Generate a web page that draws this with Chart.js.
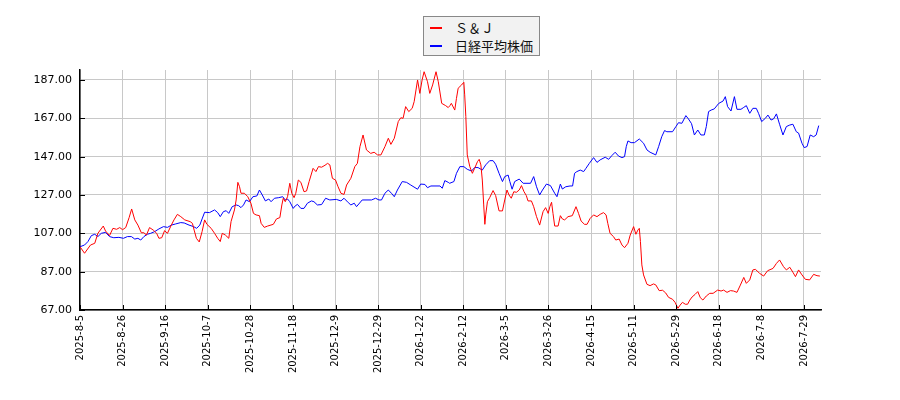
<!DOCTYPE html>
<html>
<head>
<meta charset="utf-8">
<script src="https://cdn.jsdelivr.net/npm/chart.js@4"></script>
<style>
  body { margin: 0; background: #fff; }
  #wrap { position: relative; width: 900px; height: 400px; }
  #legend {
    position: absolute; left: 423px; top: 16px; width: 115px; height: 38px;
    border: 1px solid #888; background: #f2f2f2;
    font-family: "Noto Sans CJK JP", "DejaVu Sans", sans-serif; font-size: 13px; color: #111;
  }
  #legend .row { position: absolute; left: 0; height: 18px; line-height: 18px; }
  #legend .swatch { position: absolute; left: 6px; top: 8px; width: 12px; height: 2px; }
  #legend .label { position: absolute; left: 31px; white-space: nowrap; }
</style>
</head>
<body>
<div id="wrap">
  <canvas id="chart" width="900" height="400"></canvas>
  <div id="legend"></div>
</div>
<script>
// === DONNEES ===
const xLabels = ["2025-8-5", "2025-8-26", "2025-9-16", "2025-10-7", "2025-10-28", "2025-11-18",
  "2025-12-9", "2025-12-29", "2026-1-22", "2026-2-12", "2026-3-5", "2026-3-26", "2026-4-15",
  "2026-5-11", "2026-5-29", "2026-6-18", "2026-7-8", "2026-7-29"];
const yTicks = [67, 87, 107, 127, 147, 167, 187];

// S&J (index in trading days, relative price)
const sjDay = [0, 1.6, 3.7, 5.2, 6.3, 8.2, 9, 10.4, 11.6, 12.9, 14, 15, 16.1, 17.3, 18.2, 19.3, 20.4, 21.6,
  22.5, 23.4, 24.5, 25.8, 27, 27.8, 28.8, 29.8, 30.8, 32, 33.1, 34.3, 35.5, 36.9, 38.8, 39.6, 40.2, 41,
  42, 43, 43.9, 44.7, 46.2, 47.4, 48.5, 49.4, 50.1, 51.2, 52.4, 53.2, 54.4, 55, 55.6, 56.2, 56.7, 57.9,
  59.1, 60.2, 61.1, 62, 63.2, 63.8, 64.9, 66.1, 68.1, 69.2, 70.4, 71.1, 71.6, 72.3, 73.1, 73.9, 74.6,
  75.4, 76, 76.9, 77.8, 78.9, 79.8, 80.7, 82.1, 83.1, 84, 85.1, 86.3, 87.2, 88, 88.9, 90, 90.9, 91.9,
  93, 93.9, 95.4, 96.8, 97.7, 98.6, 99.7, 100.9, 102.4, 103.6, 104.8, 106, 107.4, 108.6, 109.5, 110.7,
  112.1, 113, 113.8, 114.7, 115.8, 117, 117.7, 118.9, 119.7, 120.5, 121.2, 122.4, 123.2, 124.2, 125.4,
  126.2, 127.4, 128.8, 129.7, 130.3, 130.8, 132, 132.6, 133.2, 134.4, 135.2, 135.5, 135.9, 136.4, 137.3,
  138.2, 139, 140, 140.6, 141.2, 141.7, 142.2, 142.6, 142.9, 143.5, 144.3, 145.5, 146.4, 147.6, 148.8,
  149.6, 150.4, 151.1, 151.9, 152.8, 153.7, 154.7, 155.5, 156.4, 157.2, 157.8, 159, 159.8, 160.8, 161.9,
  163.1, 164, 164.9, 165.5, 166.1, 166.6, 167.2, 168.4, 169.2, 169.9, 170.7, 171.9, 173.4, 174.7, 175.6,
  176.5, 177.7, 178.6, 179.7, 180.9, 182.1, 183.2, 184.4, 185.3, 185.9, 186.7, 187.9, 188.7, 189.9,
  190.9, 191.8, 193, 193.8, 195, 195.8, 196.5, 197, 197.4, 197.9, 198.5, 199.7, 200.8, 202, 202.8, 204,
  205.2, 206.3, 207.3, 208.7, 209.6, 210.6, 211.4, 212.2, 213.2, 214, 214.8, 215.6, 216.7, 217.6, 218.5,
  219.4, 220.6, 221.8, 223, 224.6, 225.8, 226.7, 227.9, 229.1, 230.2, 231.4, 232.6, 233.8, 234.7, 235.9,
  237, 237.9, 239.4, 240.8, 242.2, 244.1, 245.3, 246.4, 247.8, 248.8, 250, 251.1, 252, 253.1, 254.3,
  255.5, 257, 258.4, 259.6, 260.6];
const sjPrice = [100, 96.6, 100.9, 101.8, 107, 110.8, 108.2, 105.8, 109.6, 109.1, 110, 108.9, 110, 115.2,
  119.7, 114, 111.3, 107.3, 107.3, 106.1, 110, 108.7, 107, 104.4, 104.7, 108.4, 107, 110.8, 114, 116.9,
  115.7, 114, 113.1, 112.2, 108.7, 104.4, 102.5, 107.9, 114, 111.7, 109.6, 107, 104.4, 102.7, 107, 106.1,
  104.4, 113.1, 119.2, 124.4, 133.6, 131.3, 127.9, 127.9, 126.1, 122.7, 117.4, 116.6, 116.2, 112.2, 110.1,
  110.8, 111.7, 114.5, 115.2, 121.8, 125.3, 123.5, 126.1, 133.1, 127.9, 125.6, 127.9, 134.8, 133.6, 128.7,
  129.1, 134, 140.9, 139.2, 141.8, 141.5, 142.5, 143.5, 142.7, 135.7, 134.8, 131.3, 127.9, 127.3, 132.2,
  135.7, 141.8, 143.5, 152.2, 158.3, 150.5, 148.7, 149.3, 147.9, 147.9, 152.2, 156.6, 153.4, 156.6, 165.3,
  167.3, 167, 173.1, 170.5, 172.2, 175.7, 187, 180, 187, 191.3, 186.1, 180, 184.4, 191.3, 186.1, 174.8,
  173.6, 172.6, 173.6, 174.8, 171.3, 177.4, 182.7, 184.4, 185.8, 179.2, 167.9, 147.9, 141.8, 138.3, 140.9,
  144.4, 145.6, 142.7, 134.8, 121.8, 111.7, 116.6, 123.5, 125.6, 129.3, 126.7, 118.7, 118.7, 124.4, 129.6,
  127, 125.3, 128.7, 128.4, 129.6, 131.9, 128.7, 126.7, 123.9, 123.9, 120.9, 115.7, 111.3, 118.3, 120.4,
  117.4, 120.9, 123.2, 117.4, 110.8, 110.8, 116.2, 114.5, 114, 115.7, 116.2, 120.9, 117.4, 113.4, 111.7,
  111.7, 114.8, 116.6, 115.7, 116.9, 117.8, 116.6, 112.2, 107, 105.3, 103.5, 104, 100.9, 99.5, 101.8,
  106.1, 110.5, 106.5, 108.7, 109.6, 102.7, 90.5, 85.3, 80.4, 79.7, 80.6, 80.1, 77.1, 77.3, 75.9, 73.6,
  72.6, 71, 67.9, 69.6, 71, 70, 70, 72.2, 73.8, 75.2, 76.6, 73.4, 72.2, 74.3, 75.7, 75.7, 77.4, 76.9, 77.4,
  76.2, 77.1, 76.9, 76.2, 80, 84, 80.9, 82.7, 87.9, 88.2, 86.1, 84.7, 87.5, 88.7, 91.3, 93.1, 89.6, 87.9,
  89.3, 86.7, 84.4, 87.9, 85.3, 83, 82.7, 85.6, 84.9, 84.7];

// 日経平均株価 (index in trading days, relative price)
const nkDay = [0, 1.6, 2.8, 4, 5.2, 6.3, 7.5, 9, 10.4, 11.9, 13.7, 15.3, 16.7, 18.1, 19.3, 20.4, 21.4, 22.5,
  23.7, 24.9, 26.3, 27.8, 29.4, 30.8, 32.2, 33.7, 35.5, 36.7, 38.4, 40, 41.1, 42.2, 43, 43.9, 45.6, 47.4,
  48.5, 49.4, 50.5, 51.5, 52.4, 53.6, 55, 55.9, 56.7, 57.6, 58.5, 59.7, 60.9, 62.3, 63.2, 64.2, 65.3, 66.5,
  67.3, 68.5, 70, 71.4, 72.3, 73.1, 73.9, 75.1, 75.8, 76.6, 77.8, 78.9, 80.1, 81.5, 82.4, 83.6, 85.1,
  86.5, 88, 90.3, 91.9, 93, 94.5, 95.4, 96.6, 97.4, 99.4, 102.7, 104.1, 105.3, 106.2, 107.4, 108.6, 109.7,
  110.7, 111.8, 113.5, 115, 116.5, 118.9, 120, 121.5, 122.4, 123.6, 126.8, 127.6, 128.5, 129.7, 130.2,
  131.7, 132.6, 133.8, 135.2, 136.4, 137.9, 139, 140.2, 141.7, 142.9, 144.3, 145.5, 146.4, 147.6, 148.8,
  149.6, 150.8, 151.4, 152.2, 153.1, 154.7, 156.1, 158.7, 159.8, 160.8, 161.9, 162.9, 164.3, 165.7, 167.2,
  168, 169.2, 169.9, 171.1, 172.6, 173.5, 174.2, 175, 176.2, 177.4, 178.2, 179.4, 180.9, 182.1, 183.2, 185,
  186.2, 187.3, 188.5, 189.7, 190.9, 191.8, 192.4, 193, 194.1, 195.3, 197, 198.5, 199.7, 200.8, 202.8,
  203.8, 204.9, 205.9, 206.7, 208.7, 209.9, 210.8, 212, 213.4, 214.3, 215.4, 216.4, 217.6, 218.7, 219.9,
  220.6, 221.4, 222.3, 223.4, 225, 226.5, 227.3, 228.1, 229.3, 230.5, 231.4, 232.8, 233.8, 234.7, 235.9,
  237, 238.2, 239, 240.1, 241.4, 242.3, 243.4, 244.3, 245.3, 246.4, 247.6, 248.8, 250, 251.1, 252.3, 253.1,
  254.3, 255.1, 256.1, 257.2, 258.4, 259.3, 260.2];
const nkPrice = [100, 100.9, 102.7, 105.8, 106.5, 105.3, 107, 107.5, 105.3, 104.7, 104.9, 104.4, 105.3,
  105.3, 104, 104.4, 103.5, 105.3, 106.5, 107, 107.9, 109.3, 110.5, 110.1, 111.3, 111.9, 112.6, 112.4,
  111.3, 110.5, 109.6, 111.3, 114.5, 118, 117.8, 119.2, 117.8, 115.7, 118.3, 118.8, 117.4, 120.9, 121.8,
  121.4, 120.4, 121.8, 124.4, 123.5, 126.1, 126.5, 129.6, 127, 123.9, 124.9, 123.5, 125.3, 125.6, 126.1,
  124.4, 124.9, 123.5, 120, 121.3, 122.1, 120, 120, 122.7, 123.9, 123.5, 121.8, 122, 125.3, 124.4, 124.7,
  123.9, 125.3, 123, 121.8, 122.7, 120.9, 124.4, 124.4, 125.3, 124.4, 124.4, 127.9, 129.6, 127.9, 126.1,
  129.6, 134, 133.6, 132.2, 130, 132.7, 132.5, 130.8, 131.7, 131.7, 130.5, 134.5, 133.6, 133.1, 134, 138.3,
  141.8, 141.8, 140.4, 139.5, 141.3, 141.3, 140, 142.7, 144.9, 144.9, 143, 138.3, 134, 136.6, 137.4, 134,
  130, 134, 135.3, 133.1, 133.1, 136.6, 131.3, 127, 129.6, 132.7, 131.9, 127.9, 126.1, 132.7, 130.1, 131.3,
  131.7, 131.7, 138.3, 139.2, 140, 139.2, 140.9, 143.5, 146.5, 144, 145.3, 146.7, 145.6, 147.5, 149.3,
  147.3, 146.5, 147, 152.2, 155.2, 154.3, 154.3, 156.2, 154, 150.5, 149.3, 147.9, 152.2, 157.4, 160.6, 160,
  160, 162.7, 164.7, 164.4, 168.4, 166.7, 164.2, 158.3, 160.9, 158.3, 158.3, 162.7, 170.5, 171.3, 171.9,
  174.8, 176, 178.3, 173.1, 170.8, 178.3, 171.7, 171.7, 172.7, 173.6, 169.6, 172.2, 172.2, 169.6, 165.3,
  167, 168.7, 166.1, 166.7, 169.3, 163.9, 158.3, 162.7, 163.5, 163.9, 160, 159.3, 154, 151.7, 152.3, 158.3,
  157.4, 158.3, 163.2];

const series = [
  { label: "Ｓ＆Ｊ", color: "#ff0000", days: sjDay, values: sjPrice },
  { label: "日経平均株価", color: "#0000ff", days: nkDay, values: nkPrice }
];

// === LEGENDE ===
const legend = document.getElementById("legend");
series.forEach((s, k) => {
  const row = document.createElement("div");
  row.className = "row";
  row.style.top = (2 + k * 18) + "px";
  row.innerHTML = `<span class="swatch" style="background:${s.color}"></span><span class="label">${s.label}</span>`;
  legend.appendChild(row);
});

// === TRAITS DE GRADUATION (vers l'intérieur) ===
const innerTicks = {
  id: "innerTicks",
  afterDraw(chart) {
    const ctx = chart.ctx, a = chart.chartArea;
    const xs = chart.scales.x, ys = chart.scales.y;
    ctx.save();
    ctx.strokeStyle = "#000";
    ctx.lineWidth = 1;
    ctx.beginPath();
    xs.ticks.forEach(t => {
      const px = Math.round(xs.getPixelForValue(t.value)) + 0.5;
      ctx.moveTo(px, a.bottom); ctx.lineTo(px, a.bottom - 5);
    });
    ys.ticks.forEach(t => {
      const py = Math.round(ys.getPixelForValue(t.value)) + 0.5;
      ctx.moveTo(a.left, py); ctx.lineTo(a.left + 5, py);
    });
    ctx.stroke();
    ctx.restore();
  }
};

// === GRAPHIQUE ===
new Chart(document.getElementById("chart"), {
  type: "line",
  data: {
    datasets: series.map(s => ({
      label: s.label,
      data: s.days.map((d, k) => ({ x: d, y: s.values[k] })),
      borderColor: s.color,
      borderWidth: 1,
      pointRadius: 0,
      tension: 0,
      fill: false
    }))
  },
  options: {
    responsive: false,
    animation: false,
    devicePixelRatio: 1,
    layout: { padding: { top: 70, right: 79, left: 0, bottom: 0 } },
    plugins: { legend: { display: false }, tooltip: { enabled: false } },
    scales: {
      x: {
        type: "linear",
        min: 0,
        max: 261,
        afterFit: s => { s.height = 90; },
        afterBuildTicks: s => { s.ticks = xLabels.map((_, k) => ({ value: k * 15 })); },
        grid: { color: "#c8c8c8", drawTicks: false },
        border: { color: "#000", width: 1.5 },
        ticks: {
          autoSkip: false, minRotation: 90, maxRotation: 90, padding: 5,
          color: "#000", font: { family: "DejaVu Sans", size: 10 },
          callback: v => xLabels[Math.round(v / 15)]
        }
      },
      y: {
        min: 67,
        max: 192.2,
        afterFit: s => { s.width = 80; },
        afterBuildTicks: s => { s.ticks = yTicks.map(v => ({ value: v })); },
        grid: { color: "#c8c8c8", drawTicks: false },
        border: { color: "#000", width: 1.5 },
        ticks: {
          padding: 8, color: "#000", font: { family: "DejaVu Sans", size: 11 },
          callback: v => v.toFixed(2)
        }
      }
    }
  },
  plugins: [innerTicks]
});
</script>
</body>
</html>
